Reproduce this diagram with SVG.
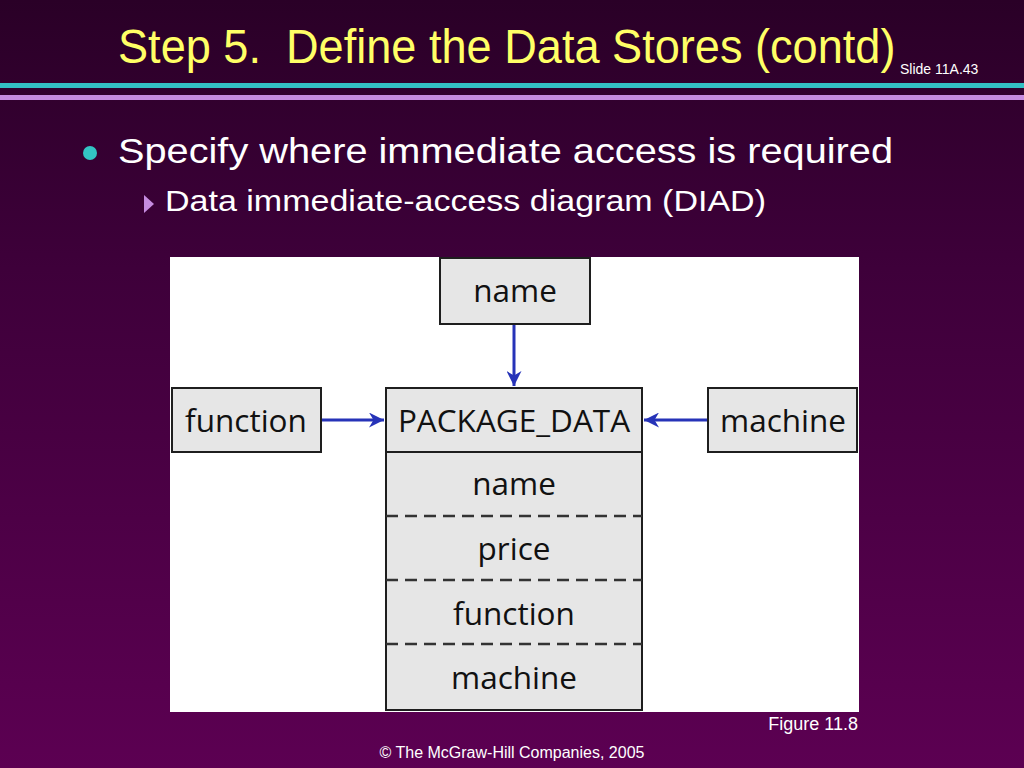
<svg xmlns="http://www.w3.org/2000/svg" width="1024" height="768" viewBox="0 0 1024 768">
<defs>
<linearGradient id="bg" x1="0" y1="0" x2="0" y2="1">
<stop offset="0" stop-color="#2a0027"/>
<stop offset="0.35" stop-color="#3e003a"/>
<stop offset="1" stop-color="#5c0052"/>
</linearGradient>
<marker id="ah" viewBox="0 0 10 10" refX="10" refY="5" markerWidth="5" markerHeight="5" orient="auto" markerUnits="strokeWidth">
<path d="M0,0 L10,5 L0,10 L3,5 z" fill="#2633b8"/>
</marker>
</defs>
<style>
.box{fill:#e6e6e6;stroke:#1e1e1e;stroke-width:2}
.lbl{font-family:"Open Sans","Noto Sans",sans-serif;font-size:31.5px;fill:#111;text-anchor:middle}
.conn{stroke:#2633b8;stroke-width:3;fill:none;marker-end:url(#ah)}
.dash{stroke:#333;stroke-width:2.5;stroke-dasharray:12,7}
.sl{font-family:"Liberation Sans",Arial,sans-serif}
</style>
<rect width="1024" height="768" fill="url(#bg)"/>
<text class="sl" transform="translate(118,63) scale(0.94,1)" x="0" y="0" font-size="48" fill="#ffff66" xml:space="preserve">Step 5.  Define the Data Stores (contd)</text>
<text class="sl" x="900" y="74" font-size="14" fill="#ffffff">Slide 11A.43</text>
<rect x="0" y="83" width="1024" height="5" fill="#33c0c4"/>
<rect x="0" y="95" width="1024" height="5" fill="#c58be0"/>
<circle cx="90" cy="153" r="7" fill="#33c4c4"/>
<text class="sl" x="118" y="163" font-size="35" fill="#ffffff" textLength="775" lengthAdjust="spacingAndGlyphs">Specify where immediate access is required</text>
<path d="M144,195 L154,204 L144,213 z" fill="#c58be0"/>
<text class="sl" x="165" y="211" font-size="30" fill="#ffffff" textLength="601" lengthAdjust="spacingAndGlyphs">Data immediate-access diagram (DIAD)</text>
<rect x="170" y="257" width="689" height="455" fill="#ffffff"/>
<g id="connectors">
<line class="conn" x1="514" y1="324" x2="514" y2="386"/>
<line class="conn" x1="322" y1="420" x2="384" y2="420"/>
<line class="conn" x1="708" y1="420" x2="644" y2="420"/>
</g>
<g id="node-name">
<rect class="box" x="440" y="258" width="150" height="66"/>
<text class="lbl" x="515" y="302">name</text>
</g>
<g id="node-function">
<rect class="box" x="172" y="388" width="149" height="64"/>
<text class="lbl" x="246" y="432">function</text>
</g>
<g id="node-machine">
<rect class="box" x="708" y="388" width="149" height="64"/>
<text class="lbl" x="783" y="432">machine</text>
</g>
<g id="node-package-data">
<rect class="box" x="386" y="388" width="256" height="322"/>
<line x1="386" y1="452" x2="642" y2="452" stroke="#1e1e1e" stroke-width="2"/>
<line class="dash" x1="386" y1="516" x2="642" y2="516"/>
<line class="dash" x1="386" y1="580" x2="642" y2="580"/>
<line class="dash" x1="386" y1="644" x2="642" y2="644"/>
<text class="lbl" x="514" y="432">PACKAGE_DATA</text>
<text class="lbl" x="514" y="495">name</text>
<text class="lbl" x="514" y="560">price</text>
<text class="lbl" x="514" y="625">function</text>
<text class="lbl" x="514" y="689">machine</text>
</g>
<text class="sl" x="858" y="730" font-size="18" fill="#ffffff" text-anchor="end">Figure 11.8</text>
<text class="sl" x="512" y="758" font-size="16" fill="#ffffff" text-anchor="middle">© The McGraw-Hill Companies, 2005</text>
</svg>
